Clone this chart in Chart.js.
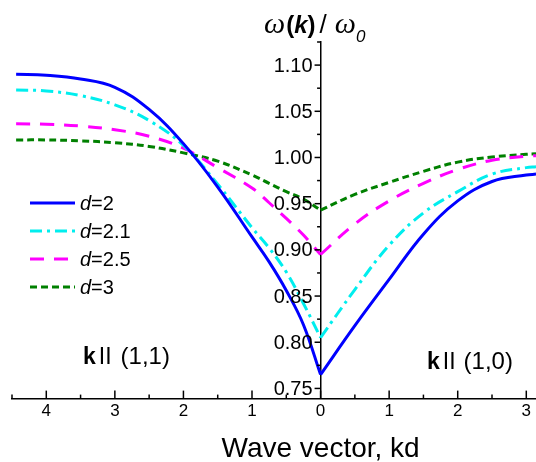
<!DOCTYPE html>
<html>
<head>
<meta charset="utf-8">
<script src="https://cdn.jsdelivr.net/npm/chart.js@4.4.0/dist/chart.umd.min.js"></script>
<style>
  html, body { margin: 0; padding: 0; background: #fff; }
</style>
</head>
<body>
<canvas id="dispersionChart" width="536" height="462"></canvas>
<script>
// wave vector along (1,1) - drawn on the left half (negative x)
const kLeft = [4.44, 4, 3.5, 3, 2.5, 2, 1.5, 1, 0.75, 0.5, 0.25, 0];
// wave vector along (1,0) - right half
const kRight = [0, 0.5, 1, 1.5, 2, 2.5, 3, 3.1416];

const d2Left  = [1.090, 1.089, 1.085, 1.076, 1.052, 1.015, 0.968, 0.914, 0.887, 0.856, 0.819, 0.765];
const d21Left = [1.073, 1.072, 1.067, 1.057, 1.040, 1.013, 0.971, 0.924, 0.902, 0.876, 0.842, 0.805];
const d25Left = [1.0365, 1.036, 1.034, 1.030, 1.023, 1.010, 0.989, 0.967, 0.951, 0.934, 0.916, 0.895];
const d3Left  = [1.019, 1.019, 1.018, 1.016, 1.012, 1.005, 0.996, 0.981, 0.972, 0.963, 0.955, 0.943];

const d2Right  = [0.765, 0.818, 0.868, 0.917, 0.953, 0.974, 0.981, 0.982];
const d21Right = [0.805, 0.857, 0.905, 0.940, 0.963, 0.982, 0.989, 0.990];
const d25Right = [0.895, 0.928, 0.953, 0.972, 0.987, 0.997, 1.0015, 1.002];
const d3Right  = [0.943, 0.960, 0.973, 0.985, 0.995, 1.0005, 1.0035, 1.004];

const dLabels = ['2', '2.1', '2.5', '3'];
const xTickValues = [-4, -3, -2, -1, 0, 1, 2, 3];
const yTickValues = [0.75, 0.80, 0.85, 0.90, 0.95, 1.00, 1.05, 1.10];

const SANS = '"Liberation Sans", Arial, sans-serif';
const SERIF = '"Liberation Serif", "Times New Roman", serif';

const estilos = [
    { color: '#0000ff', dash: [] },
    { color: '#00eeee', dash: [12, 5, 3, 5] },
    { color: '#ff00ff', dash: [14, 10] },
    { color: '#008000', dash: [7, 4] }
];
const izquierda = [d2Left, d21Left, d25Left, d3Left];
const derecha = [d2Right, d21Right, d25Right, d3Right];

const datasets = [];
dLabels.forEach((d, i) => {
    [[kLeft, izquierda[i], -1], [kRight, derecha[i], 1]].forEach(([ks, vals, sign]) => {
        datasets.push({
            label: 'd = ' + d,
            data: ks.map((k, j) => ({ x: sign * k, y: vals[j] })),
            borderColor: estilos[i].color,
            borderWidth: 3,
            borderDash: estilos[i].dash,
            tension: 0.4,
            pointRadius: 0,
            fill: false
        });
    });
});

function linea(ctx, x1, y1, x2, y2) {
    ctx.beginPath();
    ctx.moveTo(x1, y1);
    ctx.lineTo(x2, y2);
    ctx.stroke();
}

// draw a run of text pieces with their own fonts, left to right
function textoMixto(ctx, partes, x, y) {
    partes.forEach(p => {
        ctx.font = p.font;
        ctx.fillText(p.t, x, y + (p.dy || 0));
        x += ctx.measureText(p.t).width + (p.gap || 0);
    });
}

const decorado = {
    id: 'decorado',
    afterDraw(chart) {
        const { ctx, chartArea, scales: { x, y } } = chart;
        const x0 = x.getPixelForValue(0);
        ctx.save();
        ctx.strokeStyle = '#000';
        ctx.fillStyle = '#000';
        ctx.lineWidth = 1.5;
        ctx.setLineDash([]);

        // x ticks point up into the plot
        xTickValues.forEach(v => {
            const px = x.getPixelForValue(v);
            linea(ctx, px, chartArea.bottom, px, chartArea.bottom - 8);
        });
        xTickValues.concat([-5]).forEach(v => {
            const m = v + 0.5;
            if (m < x.min || m > x.max) return;
            const px = x.getPixelForValue(m);
            linea(ctx, px, chartArea.bottom, px, chartArea.bottom - 4);
        });

        // y ticks point left of the axis
        yTickValues.forEach(v => {
            const py = y.getPixelForValue(v);
            linea(ctx, x0, py, x0 - 6, py);
            const m = v + 0.025;
            if (m <= y.max + 1e-9) {
                const pm = y.getPixelForValue(m);
                linea(ctx, x0, pm, x0 - 3.5, pm);
            }
        });

        // y tick labels
        ctx.font = '20px ' + SANS;
        ctx.textAlign = 'right';
        ctx.textBaseline = 'middle';
        yTickValues.forEach(v => {
            ctx.fillText(v.toFixed(2), x0 - 8, y.getPixelForValue(v) + 1);
        });

        // axis titles
        ctx.textAlign = 'center';
        ctx.textBaseline = 'alphabetic';
        ctx.font = '28px ' + SANS;
        ctx.fillText('Wave vector, kd', x0, 457);

        ctx.textAlign = 'left';
        textoMixto(ctx, [
            { t: 'ω', font: 'italic 30px ' + SERIF, gap: 1 },
            { t: '(', font: 'bold 24px ' + SANS },
            { t: 'k', font: 'italic bold 24px ' + SANS },
            { t: ')', font: 'bold 24px ' + SANS, gap: 4 },
            { t: '/', font: '26px ' + SANS, gap: 8 },
            { t: 'ω', font: 'italic 30px ' + SERIF },
            { t: '0', font: 'italic 17px ' + SANS, dy: 9 }
        ], 264, 33);

        // legend
        dLabels.forEach((d, i) => {
            const cy = 203 + i * 28;
            ctx.strokeStyle = estilos[i].color;
            ctx.lineWidth = 3;
            ctx.setLineDash(estilos[i].dash);
            linea(ctx, 30, cy, 75, cy);
            ctx.setLineDash([]);
            textoMixto(ctx, [
                { t: 'd', font: 'italic 20px ' + SANS },
                { t: '=' + d, font: '20px ' + SANS }
            ], 80, cy + 7);
        });

        // direction labels
        textoMixto(ctx, [
            { t: 'k', font: 'bold 23px ' + SANS, gap: 3 },
            { t: 'II', font: '23px ' + SANS, gap: 9 },
            { t: '(1,1)', font: '24px ' + SANS }
        ], 83, 364);
        textoMixto(ctx, [
            { t: 'k', font: 'bold 23px ' + SANS, gap: 3 },
            { t: 'II', font: '23px ' + SANS, gap: 8 },
            { t: '(1,0)', font: '24px ' + SANS }
        ], 427, 369);

        ctx.restore();
    }
};

const ctx = document.getElementById('dispersionChart').getContext('2d');
window.myChart = new Chart(ctx, {
    type: 'line',
    data: { datasets: datasets },
    options: {
        responsive: false,
        animation: false,
        layout: { padding: { top: 42, left: 12, right: 0, bottom: 37 } },
        plugins: {
            legend: { display: false },
            tooltip: { enabled: false }
        },
        scales: {
            x: {
                type: 'linear',
                min: -4.5,
                max: Math.PI,
                afterBuildTicks: axis => { axis.ticks = xTickValues.map(v => ({ value: v })); },
                grid: { drawOnChartArea: false, drawTicks: false },
                border: { color: '#000', width: 1.5 },
                ticks: {
                    color: '#000',
                    padding: 3,
                    maxRotation: 0,
                    font: { family: SANS, size: 17 },
                    callback: v => String(Math.abs(v))
                }
            },
            y: {
                type: 'linear',
                min: 0.739,
                max: 1.125,
                position: { x: 0 },
                afterBuildTicks: axis => { axis.ticks = yTickValues.map(v => ({ value: v })); },
                grid: { drawOnChartArea: false, drawTicks: false },
                border: { color: '#000', width: 1.5 },
                ticks: { display: false }
            }
        }
    },
    plugins: [decorado]
});
</script>
</body>
</html>
